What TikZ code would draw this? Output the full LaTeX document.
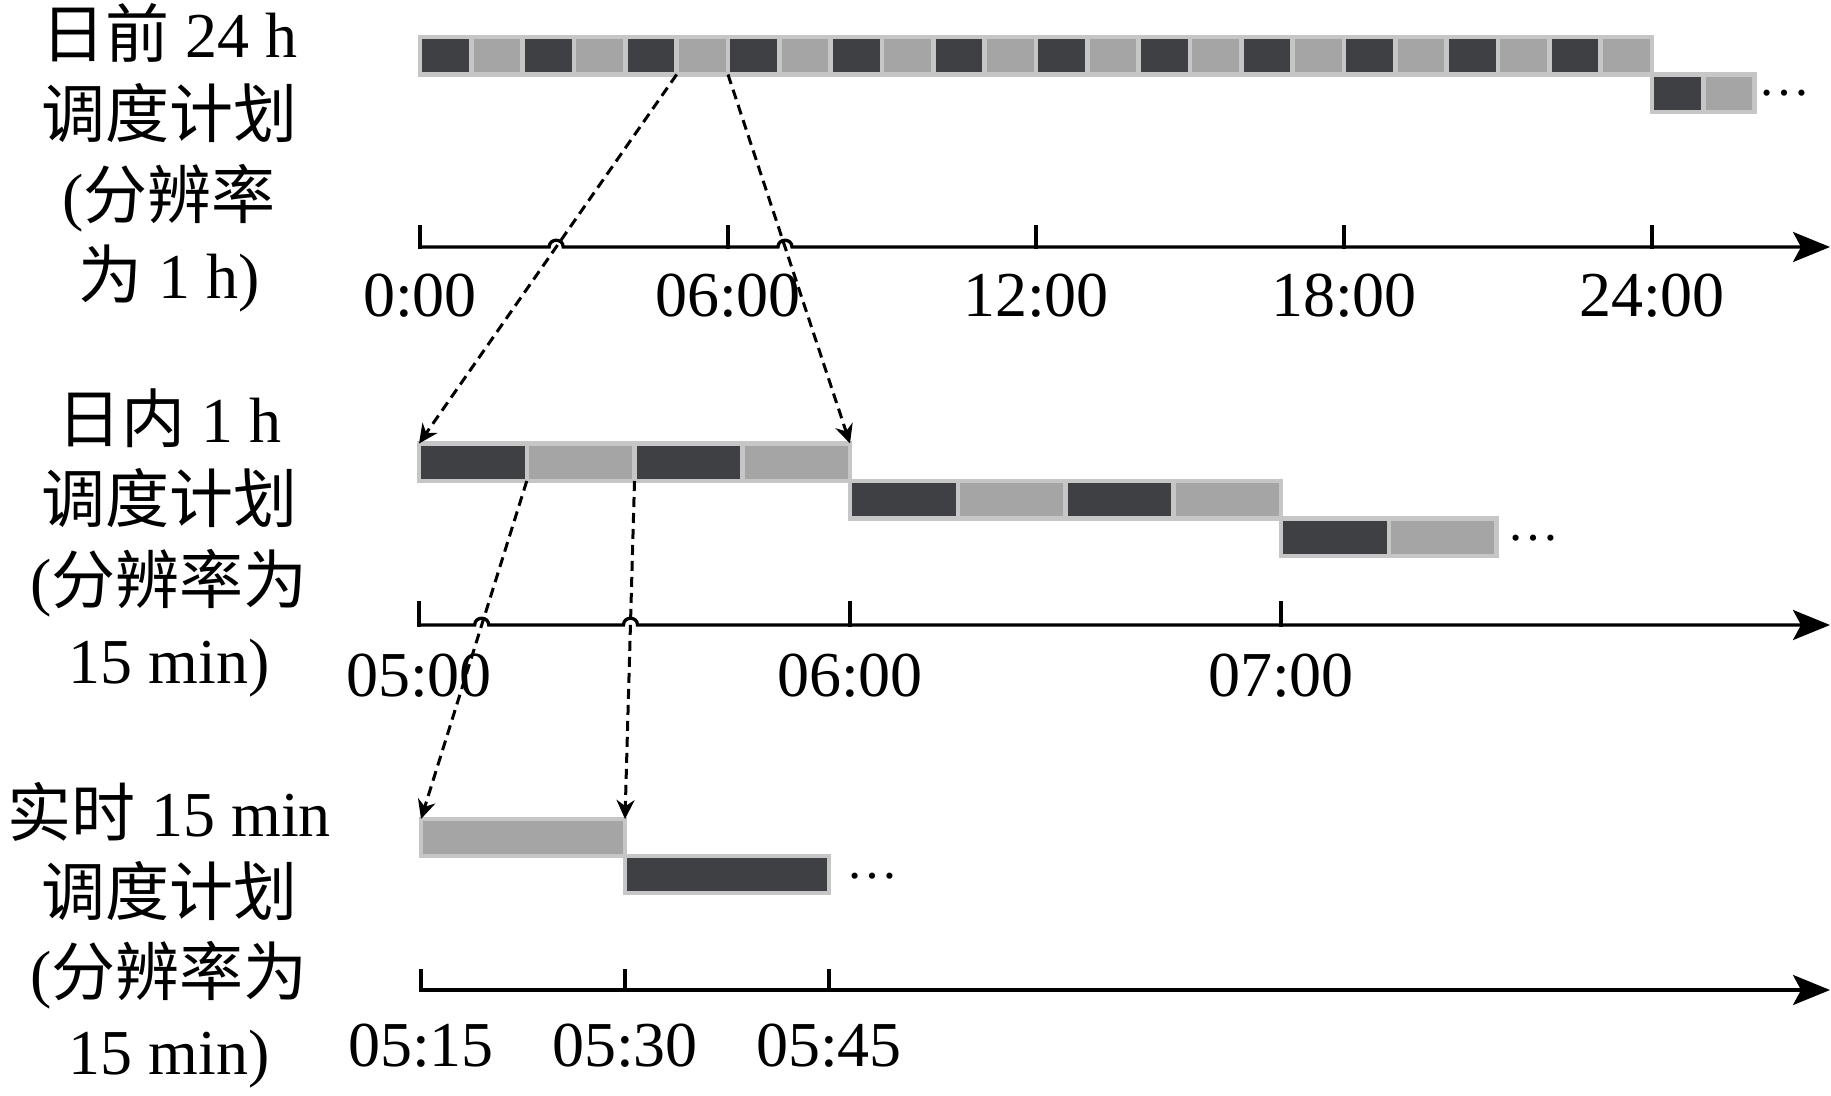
\documentclass[tikz,border=0pt]{standalone}
\usepackage{fontspec}
\setmainfont{Liberation Serif}
\newfontfamily\cjk{Noto Sans CJK SC}
\usetikzlibrary{arrows.meta}
\definecolor{darkcell}{HTML}{3F4043}
\definecolor{lightcell}{HTML}{A5A5A5}
\definecolor{cellborder}{HTML}{C6C6C6}
\newcommand\zh[1]{{\cjk #1}}
\tikzset{
  cell/.style={draw=cellborder, line width=4.5pt, inner sep=0pt, outer sep=0pt, anchor=north west},
  axisline/.style={line width=3.3pt, -{Stealth[length=37pt,width=30pt,inset=8pt]}},
  tickline/.style={line width=3.3pt},
  lbl/.style={font=\fontsize{64}{64}\selectfont, anchor=base, inner sep=0pt},
  dotlbl/.style={font=\fontsize{52}{52}\selectfont, anchor=base, inner sep=0pt},
  dasharrow/.style={line width=3pt, dash pattern=on 10pt off 6pt, -{Stealth[length=19pt,width=18pt]}}
}
\begin{document}
\begin{tikzpicture}[x=1pt,y=-1pt]
\useasboundingbox (0,0) rectangle (1831,1095);

% ---------- left labels ----------
\node[lbl] (l11) at (169,57)  {\zh{日前} 24 h};
\node[lbl] (l12) at (169,137) {\zh{调度计划}};
\node[lbl] (l13) at (169,218) {(\zh{分辨率}};
\node[lbl] (l14) at (169,298) {\zh{为} 1 h)};
\node[lbl] (l21) at (169,442) {\zh{日内} 1 h};
\node[lbl] (l22) at (169,522) {\zh{调度计划}};
\node[lbl] (l23) at (169,603) {(\zh{分辨率为}};
\node[lbl] (l24) at (169,683) {15 min)};
\node[lbl] (l31) at (169,836) {\zh{实时} 15 min};
\node[lbl] (l32) at (169,915) {\zh{调度计划}};
\node[lbl] (l33) at (169,995) {(\zh{分辨率为}};
\node[lbl] (l34) at (169,1074) {15 min)};

% ---------- row 1 cells ----------
\foreach \i in {0,...,23}{
  \pgfmathsetmacro\xx{420+51.333*\i}
  \ifodd\i \def\fc{lightcell}\else\def\fc{darkcell}\fi
  \node[cell, fill=\fc, minimum width=51.333pt, minimum height=37.5pt] (a\i) at (\xx,37) {};
}
\foreach \i in {24,25}{
  \pgfmathsetmacro\xx{420+51.333*\i}
  \ifodd\i \def\fc{lightcell}\else\def\fc{darkcell}\fi
  \node[cell, fill=\fc, minimum width=51.333pt, minimum height=37.5pt] (a\i) at (\xx,74.5) {};
}
\node[dotlbl] (d1) at (1784,95) {…};

% ---------- row 2 cells ----------
\foreach \i in {0,...,3}{
  \pgfmathsetmacro\xx{419+107.75*\i}
  \ifodd\i \def\fc{lightcell}\else\def\fc{darkcell}\fi
  \node[cell, fill=\fc, minimum width=107.75pt, minimum height=37.5pt] (b\i) at (\xx,443.5) {};
}
\foreach \i in {4,...,7}{
  \pgfmathsetmacro\xx{419+107.75*\i}
  \ifodd\i \def\fc{lightcell}\else\def\fc{darkcell}\fi
  \node[cell, fill=\fc, minimum width=107.75pt, minimum height=37.5pt] (b\i) at (\xx,481) {};
}
\foreach \i in {8,9}{
  \pgfmathsetmacro\xx{419+107.75*\i}
  \ifodd\i \def\fc{lightcell}\else\def\fc{darkcell}\fi
  \node[cell, fill=\fc, minimum width=107.75pt, minimum height=37.5pt] (b\i) at (\xx,518.5) {};
}
\node[dotlbl] (d2) at (1533,540) {…};

% ---------- row 3 cells ----------
\node[cell, fill=lightcell, minimum width=204pt, minimum height=37pt] (c0) at (421,819) {};
\node[cell, fill=darkcell, minimum width=204pt, minimum height=37pt] (c1) at (625,856) {};
\node[dotlbl] (d3) at (872,878) {…};

% ---------- axis 1 ----------
\coordinate (x1s) at (420,247);
\coordinate (x1e) at (1830,247);
\draw[axisline] (x1s) -- (549.2,247) .. controls (549.2,238) and (563.2,238) .. (563.2,247)
  -- (778,247) .. controls (778,238) and (792,238) .. (792,247) -- (x1e);
\foreach \k/\t in {0/0:00,1/06:00,2/12:00,3/18:00,4/24:00}{
  \pgfmathsetmacro\xx{420+308*\k}
  \draw[tickline] (\xx,225) -- (\xx,248.6);
  \node[lbl] (t1\k) at (\xx,316) {\t};
}

% ---------- axis 2 ----------
\coordinate (x2s) at (419,625);
\coordinate (x2e) at (1830,625);
\draw[axisline] (x2s) -- (474.7,625) .. controls (474.7,616) and (488.7,616) .. (488.7,625)
  -- (623.5,625) .. controls (623.5,616) and (637.5,616) .. (637.5,625) -- (x2e);
\foreach \k/\t in {0/05:00,1/06:00,2/07:00}{
  \pgfmathsetmacro\xx{419+431*\k}
  \draw[tickline] (\xx,601) -- (\xx,626.6);
  \node[lbl] (t2\k) at (\xx,696) {\t};
}

% ---------- axis 3 ----------
\coordinate (x3s) at (421,990);
\coordinate (x3e) at (1830,990);
\draw[axisline] (x3s) -- (x3e);
\foreach \k/\t in {0/05:15,1/05:30,2/05:45}{
  \pgfmathsetmacro\xx{421+204*\k}
  \draw[tickline] (\xx,969) -- (\xx,991.6);
  \node[lbl] (t3\k) at (\xx,1066) {\t};
}

% ---------- dashed zoom arrows ----------
\draw[dasharrow] (a4.south east) -- (b0.north west);
\draw[dasharrow] (a5.south east) -- (b3.north east);
\draw[dasharrow] (b0.south east) -- (c0.north west);
\draw[dasharrow] (b1.south east) -- (c0.north east);
\end{tikzpicture}
\end{document}
